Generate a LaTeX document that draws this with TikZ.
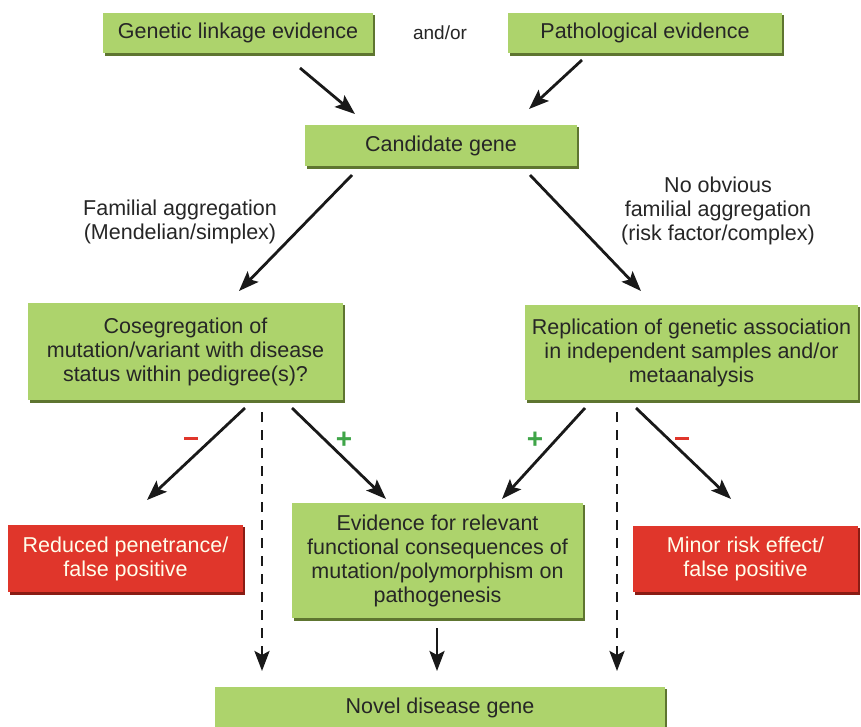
\documentclass[tikz,border=0pt]{standalone}
\usepackage{fontspec}
\setmainfont{Liberation Sans}
\usetikzlibrary{arrows.meta}
\definecolor{boxgreen}{HTML}{ADD36C}
\definecolor{greenshadow}{HTML}{5E7530}
\definecolor{boxred}{HTML}{E0362B}
\definecolor{redshadow}{HTML}{8A1C14}
\definecolor{txt}{HTML}{262626}
\definecolor{plusgreen}{HTML}{3FA548}
\definecolor{minusred}{HTML}{E0362B}
\begin{document}
\begin{tikzpicture}[x=1pt,y=-1pt,
  font=\fontsize{21.5}{24}\selectfont,
  gbox/.style={fill=boxgreen, text=txt, align=center, inner sep=0pt},
  rbox/.style={fill=boxred, text=white!92!yellow, align=center, inner sep=0pt},
  arr/.style={draw=black!90, line width=2.8pt, -{Stealth[length=20pt,width=15pt,inset=4pt]}},
  darr/.style={arr, dash pattern=on 10pt off 8pt},
  lbl/.style={text=txt, align=center, inner sep=0pt},
  sign/.style={font=\fontsize{28}{30}\selectfont\bfseries, inner sep=0pt}
]
\useasboundingbox (0,0) rectangle (861,726);
\fill[white] (0,0) rectangle (861,726);

% shadows
\foreach \xa/\ya/\xb/\yb/\c in {103/13/373/53/greenshadow, 508/13/782/53/greenshadow,
  305/125/577/166/greenshadow, 28/303/343/400/greenshadow, 525/305/858/400/greenshadow,
  292/503/583/618/greenshadow, 215/687/665/728/greenshadow,
  8/525/243/592/redshadow, 633/526/858/592/redshadow}
  \fill[\c] (\xa+2,\ya+2) rectangle (\xb+2,\yb+3);

% boxes
\node[gbox, minimum width=270pt, minimum height=40pt] (gle) at (238,33) {Genetic linkage evidence};
\node[lbl, font=\fontsize{19}{22}\selectfont] (andor) at (440,33) {and/or};
\node[gbox, minimum width=274pt, minimum height=40pt] (pat) at (645,33) {Pathological evidence};
\node[gbox, minimum width=272pt, minimum height=41pt] (cand) at (441,145.5) {Candidate gene};
\node[gbox, minimum width=315pt, minimum height=97pt] (cos) at (185.5,351.5) {Cosegregation of\\mutation/variant with disease\\status within pedigree(s)?};
\node[gbox, minimum width=333pt, minimum height=95pt] (rep) at (691.5,352.5) {Replication of genetic association\\in independent samples and/or\\metaanalysis};
\node[rbox, minimum width=235pt, minimum height=67pt] (red1) at (125.5,558.5) {Reduced penetrance/\\false positive};
\node[gbox, minimum width=291pt, minimum height=115pt] (evi) at (437.5,560.5) {Evidence for relevant\\functional consequences of\\mutation/polymorphism on\\pathogenesis};
\node[rbox, minimum width=225pt, minimum height=66pt] (red2) at (745.5,559) {Minor risk effect/\\false positive};
\node[gbox, minimum width=450pt, minimum height=41pt] (nov) at (440,707.5) {Novel disease gene};

% labels
\node[lbl] (fam) at (180,222) {Familial aggregation\\(Mendelian/simplex)};
\node[lbl] (nofam) at (718,211) {No obvious\\familial aggregation\\(risk factor/complex)};

% connector end points
\coordinate (s1) at (300,68);  \coordinate (e1) at (355,114);
\coordinate (s2) at (582,60);  \coordinate (e2) at (529,109);
\coordinate (s3) at (352,175); \coordinate (e3) at (239,291);
\coordinate (s4) at (530,175); \coordinate (e4) at (641,291);
\coordinate (s5) at (245,408); \coordinate (e5) at (147,500);
\coordinate (s6) at (292,408); \coordinate (e6) at (386,499);
\coordinate (s7) at (262,412); \coordinate (e7) at (262,671);
\coordinate (s8) at (585,408); \coordinate (e8) at (502,499);
\coordinate (s9) at (617,412); \coordinate (e9) at (617,671);
\coordinate (s10) at (636,408); \coordinate (e10) at (731,499);
\coordinate (s11) at (437,628); \coordinate (e11) at (437,671);

\draw[arr] (s1) -- (e1);
\draw[arr] (s2) -- (e2);
\draw[arr] (s3) -- (e3);
\draw[arr] (s4) -- (e4);
\draw[arr] (s5) -- (e5);
\draw[arr] (s6) -- (e6);
\draw[darr] (s7) -- (e7);
\draw[arr] (s8) -- (e8);
\draw[darr] (s9) -- (e9);
\draw[arr] (s10) -- (e10);
\draw[arr] (s11) -- (e11);

% signs
\node[sign, text=minusred] (m1) at (191,438) {\rule{14pt}{3pt}};
\node[sign, text=plusgreen] (p1) at (344,440) {+};
\node[sign, text=plusgreen] (p2) at (535,440) {+};
\node[sign, text=minusred] (m2) at (682,438) {\rule{14pt}{3pt}};
\end{tikzpicture}
\end{document}
